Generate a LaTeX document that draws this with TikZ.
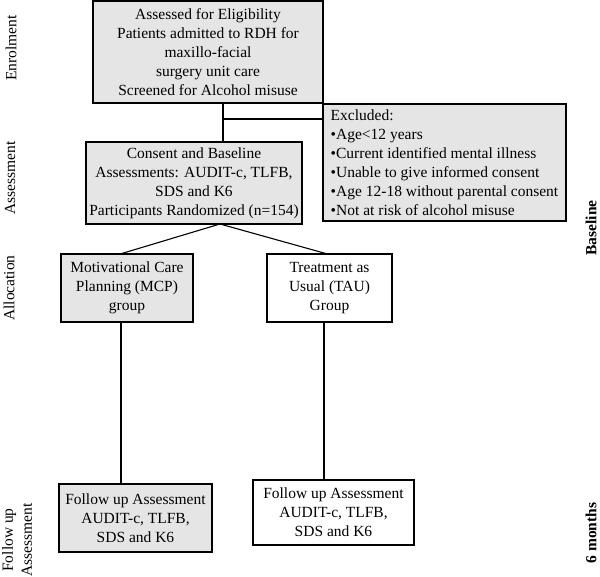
\documentclass[tikz,border=0pt]{standalone}
\usepackage{fontspec}
\setmainfont{Liberation Serif}
\begin{document}
\begin{tikzpicture}[x=1pt, y=-1pt,
  box/.style={draw, line width=1.1pt, inner sep=2pt, align=center,
    font=\fontsize{15.5}{19}\selectfont},
  shaded/.style={box, fill=black!10},
  plain/.style={box, fill=white},
  phase/.style={rotate=90, align=center, inner sep=0pt,
    font=\fontsize{15.5}{19}\selectfont},
  period/.style={rotate=90, inner sep=0pt,
    font=\fontsize{15.5}{19}\selectfont\bfseries},
  link/.style={line width=1.1pt}]
\useasboundingbox (0,0) rectangle (600,577);
\node[shaded, minimum width=230, minimum height=102] (elig) at (208,52)
  {Assessed for Eligibility\\Patients admitted to RDH for\\maxillo-facial\\surgery unit care\\Screened for Alcohol misuse};
\node[shaded, minimum width=243, minimum height=117, inner xsep=7pt, align=left] (excl) at (444.5,162.5)
  {Excluded:\\•Age<12 years\\•Current identified mental illness\\•Unable to give informed consent\\•Age 12-18 without parental consent\\•Not at risk of alcohol misuse};
\node[shaded, minimum width=216, minimum height=82] (consent) at (194,183)
  {Consent and Baseline\\Assessments: AUDIT-c, TLFB,\\SDS and K6\\Participants Randomized (n=154)};
\node[shaded, minimum width=132, minimum height=68] (mcp) at (127,288)
  {Motivational Care\\Planning (MCP)\\group};
\node[plain, minimum width=125, minimum height=68] (tau) at (329.5,288)
  {Treatment as\\Usual (TAU)\\Group};
\node[shaded, minimum width=153, minimum height=68] (fu1) at (135.5,518)
  {Follow up Assessment\\AUDIT-c, TLFB,\\SDS and K6};
\node[plain, minimum width=161, minimum height=65] (fu2) at (333.5,512.5)
  {Follow up Assessment\\AUDIT-c, TLFB,\\SDS and K6};
\node[phase] (enrol) at (11,48) {Enrolment};
\node[phase] (assess) at (10,178) {Assessment};
\node[phase] (alloc) at (9,288) {Allocation};
\node[phase] (follow) at (17,540) {Follow up\\Assessment};
\node[period] (base) at (591,228) {Baseline};
\node[period] (months) at (591,533) {6 months};
\coordinate (split) at (223,119);
\coordinate (rand) at (220,224);
\coordinate (mcpdrop) at (121,0);
\coordinate (taudrop) at (324,0);
\draw[link] (split |- elig.south) -- (split |- consent.north);
\draw[link] (split) -- (split -| excl.west);
\draw[link] (rand) -- ([xshift=-5pt]mcp.north);
\draw[link] (rand) -- ([xshift=-4pt]tau.north);
\draw[link] (mcpdrop |- mcp.south) -- (mcpdrop |- fu1.north);
\draw[link] (taudrop |- tau.south) -- (taudrop |- fu2.north);
\end{tikzpicture}
\end{document}
